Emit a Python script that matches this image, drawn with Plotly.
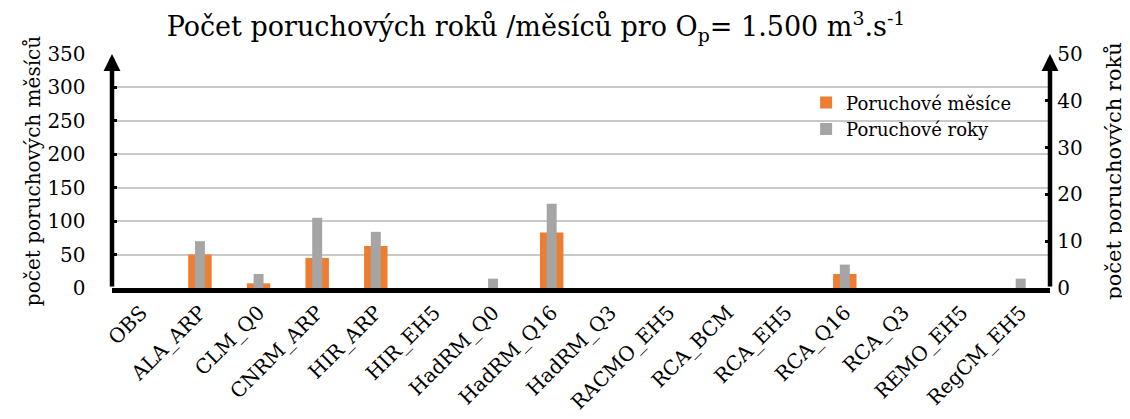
import plotly.graph_objects as go

# data
models = ["OBS", "ALA_ARP", "CLM_Q0", "CNRM_ARP", "HIR_ARP", "HIR_EH5",
          "HadRM_Q0", "HadRM_Q16", "HadRM_Q3", "RACMO_EH5", "RCA_BCM",
          "RCA_EH5", "RCA_Q16", "RCA_Q3", "REMO_EH5", "RegCM_EH5"]
months = [0, 50, 7, 45, 63, 0, 0, 83, 0, 0, 0, 0, 21, 0, 0, 0]
years = [0, 10, 3, 15, 12, 0, 2, 18, 0, 0, 0, 0, 5, 0, 0, 2]

FONT = "DejaVu Serif, Liberation Serif, serif"
ORANGE = "#ED7D31"
GRAY = "#A5A5A5"


def _f(size):
    return dict(family=FONT, size=size, color="black")


fig = go.Figure()
fig.add_trace(go.Bar(
    x=models, y=months, name="Poruchové měsíce",
    marker=dict(color=ORANGE, line=dict(width=0)),
    width=0.4, yaxis="y",
))
fig.add_trace(go.Bar(
    x=models, y=years, name="Poruchové roky",
    marker=dict(color=GRAY, line=dict(width=0)),
    width=0.17, yaxis="y2",
))

# axis lines with arrow heads
arrows = []
for xpos in (0, 1):
    arrows.append(dict(
        xref="paper", yref="paper", axref="pixel", ayref="pixel",
        x=xpos, y=1.0, ax=0, ay=234, text="", showarrow=True,
        arrowhead=2, arrowsize=0.75, arrowwidth=4.5, arrowcolor="black",
        standoff=0,
    ))

# page body adds an 8px offset, so the figure is 8px smaller
fig.update_layout(
    width=1122, height=411,
    paper_bgcolor="white", plot_bgcolor="white",
    font=_f(18),
    margin=dict(l=104, r=80, t=46, b=131),
    barmode="overlay",
    title=dict(
        text="Počet poruchových roků /měsíců pro O<sub>p</sub>= 1.500 m<sup>3</sup>.s<sup>-1</sup>",
        x=0.4706, xanchor="center", y=0.955, yanchor="middle",
        font=_f(27),
    ),
    xaxis=dict(
        tickangle=-45, tickfont=_f(20), showgrid=False, automargin=False,
        showline=True, linecolor="black", linewidth=5,
        ticks="", range=[-0.5, 15.5],
    ),
    yaxis=dict(
        range=[0, 350], dtick=50, tickfont=_f(20),
        ticksuffix="\u00a0\u00a0\u00a0\u00a0",
        showgrid=True, gridcolor="#C9C9C9", gridwidth=1.5, automargin=False,
        showline=False, zeroline=False,
        ticks="inside", ticklen=5, tickwidth=3, tickcolor="black",
        title=dict(text="počet poruchových měsíců", font=_f(20), standoff=1),
    ),
    yaxis2=dict(
        range=[0, 50], dtick=10, overlaying="y", side="right",
        tickfont=_f(20), tickprefix="\u00a0", showgrid=False, automargin=False,
        showline=False, zeroline=False,
        ticks="inside", ticklen=5, tickwidth=3, tickcolor="black",
        title=dict(text="počet poruchových roků", font=_f(21), standoff=24),
    ),
    legend=dict(
        x=0.74, y=0.87, xanchor="left", yanchor="top",
        bgcolor="rgba(0,0,0,0)", font=_f(18), tracegroupgap=0,
    ),
    annotations=arrows,
    showlegend=True,
)

fig.write_html("out.html")
